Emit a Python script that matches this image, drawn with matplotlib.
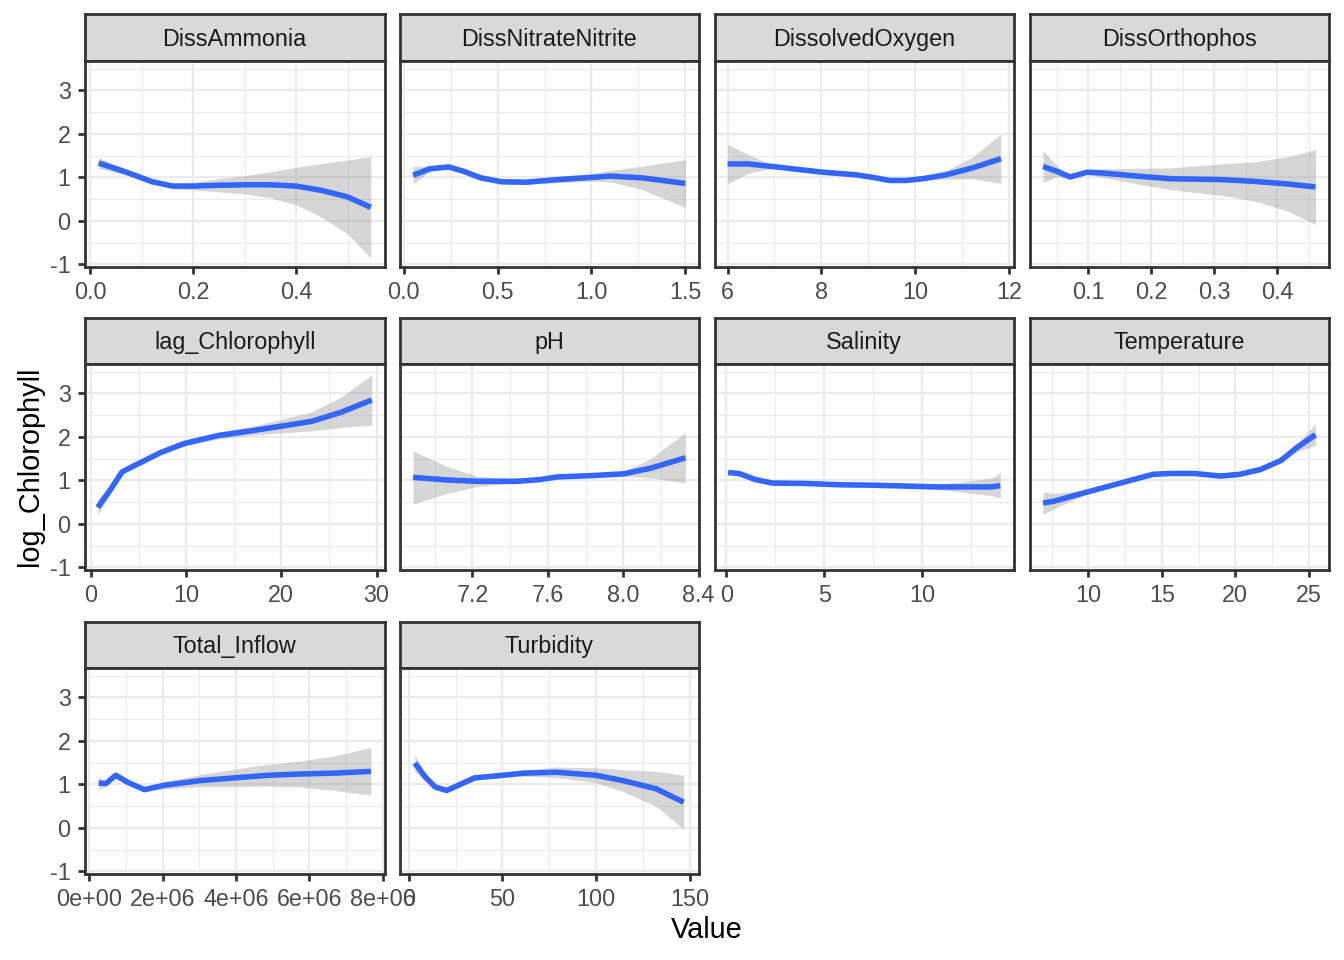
import matplotlib
matplotlib.use("Agg")
import matplotlib.pyplot as plt
from matplotlib.ticker import FixedLocator, FixedFormatter
import numpy as np

plt.rcParams['font.family'] = ['Liberation Sans', 'DejaVu Sans']

# values: x, smooth fit, half-width of the ribbon
ammonia_x = [0.016, 0.07, 0.12, 0.16, 0.2, 0.25, 0.3, 0.35, 0.4, 0.45, 0.5, 0.545]
ammonia_fit = [1.33, 1.12, 0.90, 0.80, 0.80, 0.82, 0.83, 0.83, 0.80, 0.70, 0.55, 0.31]
ammonia_hw = [0.13, 0.06, 0.05, 0.06, 0.09, 0.15, 0.21, 0.30, 0.43, 0.62, 0.85, 1.17]

nitrate_x = [0.05, 0.14, 0.24, 0.32, 0.41, 0.52, 0.65, 0.82, 1.0, 1.1, 1.27, 1.5]
nitrate_fit = [1.05, 1.20, 1.24, 1.14, 0.99, 0.90, 0.89, 0.95, 1.0, 1.03, 0.99, 0.86]
nitrate_hw = [0.20, 0.06, 0.04, 0.04, 0.04, 0.05, 0.05, 0.07, 0.09, 0.13, 0.27, 0.55]

oxygen_x = [6.0, 6.43, 6.96, 7.53, 8.03, 8.74, 9.1, 9.45, 9.81, 10.16, 10.66, 11.23, 11.83]
oxygen_fit = [1.31, 1.31, 1.25, 1.18, 1.12, 1.06, 1.0, 0.93, 0.93, 0.97, 1.06, 1.22, 1.43]
oxygen_hw = [0.45, 0.22, 0.04, 0.03, 0.03, 0.03, 0.03, 0.03, 0.03, 0.04, 0.10, 0.25, 0.57]

orthophos_x = [0.028, 0.05, 0.071, 0.098, 0.124, 0.177, 0.23, 0.31, 0.363, 0.416, 0.461]
orthophos_fit = [1.25, 1.14, 1.01, 1.12, 1.10, 1.03, 0.97, 0.95, 0.91, 0.85, 0.78]
orthophos_hw = [0.37, 0.12, 0.04, 0.05, 0.10, 0.18, 0.25, 0.36, 0.45, 0.62, 0.86]

lagchl_x = [0.7, 2.04, 3.27, 5.2, 7.3, 9.8, 13.3, 16.8, 20.35, 23.2, 26.3, 29.5]
lagchl_fit = [0.38, 0.79, 1.20, 1.41, 1.64, 1.85, 2.03, 2.14, 2.26, 2.36, 2.57, 2.85]
lagchl_hw = [0.18, 0.08, 0.05, 0.04, 0.04, 0.06, 0.08, 0.10, 0.16, 0.22, 0.35, 0.58]

ph_x = [6.885, 7.065, 7.225, 7.44, 7.56, 7.65, 7.83, 8.0, 8.145, 8.33]
ph_fit = [1.07, 1.01, 0.98, 0.98, 1.02, 1.08, 1.11, 1.15, 1.28, 1.52]
ph_hw = [0.61, 0.31, 0.12, 0.04, 0.03, 0.03, 0.03, 0.05, 0.22, 0.58]

salinity_x = [0.085, 0.63, 1.48, 2.33, 4.03, 5.73, 7.43, 9.13, 10.83, 13.55, 13.98]
salinity_fit = [1.18, 1.16, 1.02, 0.94, 0.93, 0.90, 0.89, 0.87, 0.85, 0.85, 0.88]
salinity_hw = [0.04, 0.04, 0.05, 0.05, 0.04, 0.04, 0.04, 0.04, 0.06, 0.20, 0.29]

temp_x = [6.92, 7.64, 9.9, 12.2, 14.4, 15.6, 17.2, 19.0, 20.3, 21.7, 23.1, 24.2, 25.45]
temp_fit = [0.48, 0.52, 0.73, 0.94, 1.14, 1.16, 1.16, 1.10, 1.14, 1.25, 1.46, 1.76, 2.05]
temp_hw = [0.26, 0.18, 0.04, 0.03, 0.03, 0.03, 0.03, 0.04, 0.04, 0.04, 0.06, 0.10, 0.24]

inflow_x = [0.25e6, 0.45e6, 0.72e6, 1.04e6, 1.5e6, 2.04e6, 3.05e6, 3.96e6, 4.87e6, 5.78e6, 6.7e6, 7.68e6]
inflow_fit = [1.03, 1.02, 1.21, 1.05, 0.88, 0.98, 1.09, 1.15, 1.21, 1.24, 1.26, 1.30]
inflow_hw = [0.14, 0.06, 0.04, 0.04, 0.05, 0.08, 0.14, 0.20, 0.25, 0.30, 0.40, 0.55]

turb_x = [3.2, 8.8, 14.1, 20.2, 26.4, 35.1, 50, 61.5, 79, 99.8, 114, 132, 146.7]
turb_fit = [1.49, 1.17, 0.94, 0.86, 0.98, 1.15, 1.21, 1.26, 1.28, 1.21, 1.09, 0.90, 0.59]
turb_hw = [0.20, 0.08, 0.05, 0.04, 0.04, 0.05, 0.05, 0.07, 0.12, 0.17, 0.25, 0.40, 0.62]

# name, data, major ticks, minor ticks, xlim
panels = [
    ("DissAmmonia", ammonia_x, ammonia_fit, ammonia_hw, [0.0, 0.2, 0.4], [0.1, 0.3, 0.5], (-0.0105, 0.5715), "{:.1f}"),
    ("DissNitrateNitrite", nitrate_x, nitrate_fit, nitrate_hw, [0.0, 0.5, 1.0, 1.5], [0.25, 0.75, 1.25], (-0.0225, 1.5725), "{:.1f}"),
    ("DissolvedOxygen", oxygen_x, oxygen_fit, oxygen_hw, [6, 8, 10, 12], [7, 9, 11], (5.72, 12.11), "{:.0f}"),
    ("DissOrthophos", orthophos_x, orthophos_fit, orthophos_hw, [0.1, 0.2, 0.3, 0.4], [0.05, 0.15, 0.25, 0.35, 0.45], (0.0065, 0.4825), "{:.1f}"),
    ("lag_Chlorophyll", lagchl_x, lagchl_fit, lagchl_hw, [0, 10, 20, 30], [5, 15, 25], (-0.64, 30.84), "{:.0f}"),
    ("pH", ph_x, ph_fit, ph_hw, [7.2, 7.6, 8.0, 8.4], [7.0, 7.4, 7.8, 8.2], (6.813, 8.402), "{:.1f}"),
    ("Salinity", salinity_x, salinity_fit, salinity_hw, [0, 5, 10], [2.5, 7.5, 12.5], (-0.61, 14.68), "{:.0f}"),
    ("Temperature", temp_x, temp_fit, temp_hw, [10, 15, 20, 25], [7.5, 12.5, 17.5, 22.5], (6.0, 26.37), "{:.0f}"),
    ("Total_Inflow", inflow_x, inflow_fit, inflow_hw, [0, 2e6, 4e6, 6e6, 8e6], [1e6, 3e6, 5e6, 7e6], (-0.12e6, 8.05e6), "{:.0e}"),
    ("Turbidity", turb_x, turb_fit, turb_hw, [0, 50, 100, 150], [25, 75, 125], (-4.97, 154.9), "{:.0f}"),
]

y_major = [-1, 0, 1, 2, 3]
y_minor = [-0.5, 0.5, 1.5, 2.5, 3.5]
ylim = (-1.05, 3.69)

W, H = 1344, 960
fig = plt.figure(figsize=(W / 100, H / 100), dpi=100)

col_left = [85, 399.5, 714.5, 1029.5]
panel_w = 299.5
strip_top = [14.5, 317.5, 621.5]
strip_h = 46
panel_h = 206

def px_axes(l, t, w, h):
    return fig.add_axes([l / W, 1 - (t + h) / H, w / W, h / H])

border = "#333333"
for i, (name, xs, fit, hw, major, minor, xlim, fmt) in enumerate(panels):
    r, c = divmod(i, 4)
    l = col_left[c]
    t = strip_top[r]
    # strip
    sax = px_axes(l, t, panel_w, strip_h)
    sax.set_facecolor("#D9D9D9")
    sax.set_xticks([])
    sax.set_yticks([])
    for sp in sax.spines.values():
        sp.set_color(border)
        sp.set_linewidth(2.0)
    sax.text(0.5, 0.45, name, ha="center", va="center", fontsize=16.8,
             color="#1A1A1A", transform=sax.transAxes)

    ax = px_axes(l, t + strip_h, panel_w, panel_h)
    xs = np.array(xs)
    fit = np.array(fit)
    hw = np.array(hw)
    ax.fill_between(xs, fit - hw, fit + hw, color="#999999", alpha=0.4, linewidth=0, zorder=2)
    ax.plot(xs, fit, color="#3366FF", linewidth=4.0, solid_capstyle="butt", zorder=3)
    ax.set_xlim(*xlim)
    ax.set_ylim(*ylim)
    ax.xaxis.set_major_locator(FixedLocator(major))
    ax.xaxis.set_major_formatter(FixedFormatter([fmt.format(v) for v in major]))
    ax.xaxis.set_minor_locator(FixedLocator(minor))
    ax.yaxis.set_major_locator(FixedLocator(y_major))
    ax.yaxis.set_minor_locator(FixedLocator(y_minor))
    ax.grid(which="major", color="#EBEBEB", linewidth=1.6, zorder=0)
    ax.grid(which="minor", color="#EBEBEB", linewidth=0.8, zorder=0)
    ax.set_axisbelow(True)
    ax.tick_params(which="minor", length=0)
    ax.tick_params(which="major", length=5.3, width=2.0, color=border,
                   labelsize=16.8, labelcolor="#4D4D4D", pad=5.0)
    if c == 0:
        ax.yaxis.set_major_formatter(FixedFormatter([str(v) for v in y_major]))
    else:
        ax.tick_params(axis="y", which="both", left=False, labelleft=False)
    for sp in ax.spines.values():
        sp.set_color(border)
        sp.set_linewidth(2.0)

fig.text(30 / W, 1 - 466 / H, "log_Chlorophyll", rotation=90, ha="center", va="center",
         fontsize=20.8, color="black")
fig.text(707 / W, 1 - 930 / H, "Value", ha="center", va="center",
         fontsize=20.8, color="black")

fig.savefig("out.png", dpi=100, facecolor="white")
